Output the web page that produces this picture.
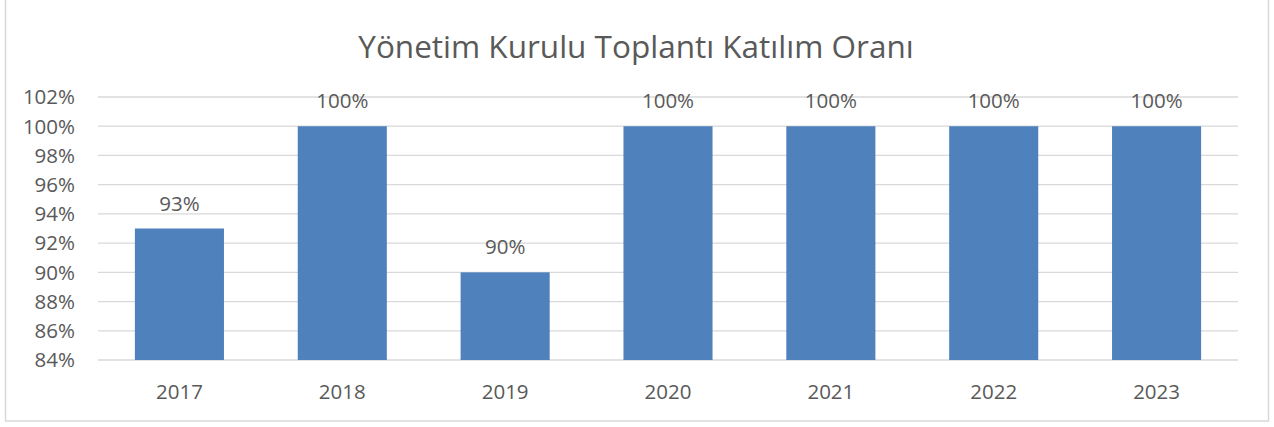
<!DOCTYPE html>
<html>
<head>
<meta charset="utf-8">
<script src="https://cdn.jsdelivr.net/npm/d3@7"></script>
<style>
  body { margin: 0; background: #fff; }
  text { font-family: 'Open Sans', sans-serif; fill: #595959; }
</style>
</head>
<body>
<div id="chart"></div>
<script>
let years = ['2017', '2018', '2019', '2020', '2021', '2022', '2023']
let rates = [93, 100, 90, 100, 100, 100, 100]
let yTicks = [84, 86, 88, 90, 92, 94, 96, 98, 100, 102]
let title = 'Yönetim Kurulu Toplantı Katılım Oranı'

let width = 1274
let height = 427
let margin = { top: 97, left: 98, right: 36, bottom: 67 }

let svg = d3
  .select('#chart')
  .append('svg')
  .attr('width', width)
  .attr('height', height)

// outer frame
svg
  .append('rect')
  .attr('x', 5.5)
  .attr('y', -2)
  .attr('width', 1263)
  .attr('height', 423)
  .attr('fill', 'none')
  .attr('stroke', '#d9d9d9')
  .attr('stroke-width', 1.5)

svg
  .append('text')
  .attr('x', 636)
  .attr('y', 58)
  .attr('text-anchor', 'middle')
  .attr('font-size', 31.5)
  .text(title)

let xScale = d3
  .scaleBand()
  .domain(years)
  .range([margin.left, width - margin.right])
  .paddingInner(0.453)
  .paddingOuter(0.2265)

let yScale = d3
  .scaleLinear()
  .domain([84, 102])
  .range([height - margin.bottom, margin.top])

let g = svg.append('g')

// gridlines
g.selectAll('.grid')
  .data(yTicks)
  .enter()
  .append('line')
  .attr('class', 'grid')
  .attr('x1', margin.left)
  .attr('x2', width - margin.right)
  .attr('y1', d => yScale(d))
  .attr('y2', d => yScale(d))
  .attr('stroke', '#d9d9d9')
  .attr('stroke-width', 1.3)

// y labels
g.selectAll('.ylabel')
  .data(yTicks)
  .enter()
  .append('text')
  .attr('class', 'ylabel')
  .attr('x', 75)
  .attr('y', d => yScale(d))
  .attr('dy', '0.36em')
  .attr('text-anchor', 'end')
  .attr('font-size', 20.5)
  .text(d => d + '%')

// bars
g.selectAll('.bar')
  .data(rates)
  .enter()
  .append('rect')
  .attr('class', 'bar')
  .attr('x', (d, i) => xScale(years[i]))
  .attr('width', xScale.bandwidth())
  .attr('y', d => yScale(d))
  .attr('height', d => yScale(84) - yScale(d))
  .attr('fill', '#4f81bd')

// value labels
g.selectAll('.vlabel')
  .data(rates)
  .enter()
  .append('text')
  .attr('class', 'vlabel')
  .attr('x', (d, i) => xScale(years[i]) + xScale.bandwidth() / 2)
  .attr('y', d => yScale(d) - 18)
  .attr('text-anchor', 'middle')
  .attr('font-size', 20.5)
  .text(d => d + '%')

// x labels
g.selectAll('.xlabel')
  .data(years)
  .enter()
  .append('text')
  .attr('class', 'xlabel')
  .attr('x', d => xScale(d) + xScale.bandwidth() / 2)
  .attr('y', 399)
  .attr('text-anchor', 'middle')
  .attr('font-size', 20.5)
  .text(d => d)
</script>
</body>
</html>
